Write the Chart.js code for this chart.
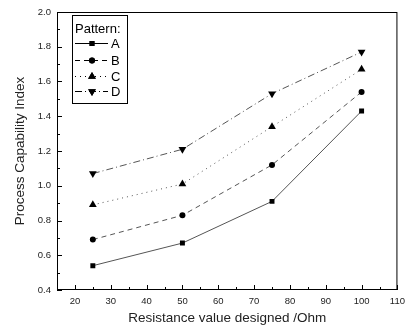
<!DOCTYPE html>
<html>
<head>
<meta charset="utf-8">
<script src="https://cdn.jsdelivr.net/npm/chart.js@4/dist/chart.umd.min.js"></script>
<style>
    body { margin: 0; background: #fff; }
    #wrap { width: 411px; height: 330px; }
</style>
</head>
<body>
<div id="wrap"><canvas id="chart" width="411" height="330"></canvas></div>
<script>
const resistance = [25, 50, 75, 100];
const patternA = [0.54, 0.67, 0.91, 1.43];
const patternB = [0.69, 0.83, 1.12, 1.54];
const patternC = [0.89, 1.01, 1.34, 1.67];
const patternD = [1.07, 1.21, 1.53, 1.77];
const seriesNames = ["A", "B", "C", "D"];

const font = "'Liberation Sans', Arial, sans-serif";

function pts(values) {
    return resistance.map((x, i) => ({ x: x, y: values[i] }));
}

const datasets = [
    { label: "A", data: pts(patternA), borderDash: [], pointStyle: "rect", pointRadius: 3.5, rotation: 0 },
    { label: "B", data: pts(patternB), borderDash: [5, 4], pointStyle: "circle", pointRadius: 3, rotation: 0 },
    { label: "C", data: pts(patternC), borderDash: [1, 4], pointStyle: "triangle", pointRadius: 4.5, rotation: 0 },
    { label: "D", data: pts(patternD), borderDash: [7, 3, 1, 3], pointStyle: "triangle", pointRadius: 4.5, rotation: 180 },
].map((d) => Object.assign(d, {
    borderColor: "#555",
    borderWidth: 1,
    backgroundColor: "#000",
    pointBackgroundColor: "#000",
    pointBorderColor: "#000",
    pointBorderWidth: 0,
    fill: false,
    tension: 0,
}));

// inward ticks and the frame
const frameTicks = {
    id: "frameTicks",
    afterDraw(chart) {
        const { ctx, chartArea: a, scales: { x, y } } = chart;
        ctx.save();
        ctx.strokeStyle = "#000";
        ctx.lineWidth = 1;
        ctx.strokeRect(a.left + 0.5, a.top + 0.5, a.right - a.left - 1, a.bottom - a.top - 1);
        ctx.beginPath();
        for (let v = 15; v <= 110; v += 5) {
            const px = Math.round(x.getPixelForValue(v)) + 0.5;
            const len = v % 10 === 0 ? 5 : 3;
            ctx.moveTo(px, a.bottom);
            ctx.lineTo(px, a.bottom - len);
        }
        for (let k = 4; k <= 20; k++) {
            const v = k / 10;
            const py = Math.round(y.getPixelForValue(v)) + 0.5;
            const len = k % 2 === 0 ? 5 : 3;
            ctx.moveTo(a.left, py);
            ctx.lineTo(a.left + len, py);
        }
        ctx.stroke();
        ctx.restore();
    },
};

// boxed legend with line samples
const boxLegend = {
    id: "boxLegend",
    afterDraw(chart) {
        const ctx = chart.ctx;
        const bx = 72.5, by = 15.5, bw = 55, bh = 88;
        ctx.save();
        ctx.fillStyle = "#fff";
        ctx.fillRect(bx, by, bw, bh);
        ctx.strokeStyle = "#000";
        ctx.lineWidth = 1;
        ctx.strokeRect(bx, by, bw, bh);
        ctx.fillStyle = "#000";
        ctx.font = "13px " + font;
        ctx.textBaseline = "middle";
        ctx.fillText("Pattern:", 75, 29);
        const rows = [43, 60, 76, 91];
        chart.data.datasets.forEach((ds, i) => {
            const yy = rows[i] + 0.5;
            ctx.strokeStyle = "#000";
            ctx.setLineDash(ds.borderDash);
            ctx.beginPath();
            ctx.moveTo(75, yy);
            ctx.lineTo(108, yy);
            ctx.stroke();
            ctx.setLineDash([]);
            Chart.helpers.drawPoint(ctx, {
                pointStyle: ds.pointStyle,
                radius: ds.pointRadius,
                rotation: ds.rotation,
                borderWidth: 0,
            }, 92, yy);
            ctx.fillStyle = "#000";
            ctx.fill();
            ctx.fillText(seriesNames[i], 111, rows[i] + 1);
        });
        ctx.restore();
    },
};

new Chart(document.getElementById("chart"), {
    type: "line",
    data: { datasets: datasets },
    options: {
        responsive: false,
        animation: false,
        layout: { padding: { top: 12, right: 5, left: 0, bottom: 0 } },
        plugins: { legend: { display: false }, tooltip: { enabled: false } },
        scales: {
            x: {
                type: "linear",
                min: 15,
                max: 110,
                afterFit(s) { s.height = 40; },
                afterBuildTicks(s) {
                    s.ticks = [20, 30, 40, 50, 60, 70, 80, 90, 100, 110].map((v) => ({ value: v }));
                },
                grid: { display: false, drawTicks: false },
                border: { display: false },
                ticks: {
                    padding: 6,
                    color: "#222",
                    font: { family: font, size: 9.5 },
                    maxRotation: 0,
                    autoSkip: false,
                },
                title: {
                    display: true,
                    text: "Resistance value designed /Ohm",
                    color: "#222",
                    font: { family: font, size: 13.5 },
                    padding: { top: 5 },
                },
            },
            y: {
                min: 0.4,
                max: 2.0,
                afterFit(s) { s.width = 57; },
                grid: { display: false, drawTicks: false },
                border: { display: false },
                ticks: {
                    stepSize: 0.2,
                    padding: 6,
                    color: "#222",
                    font: { family: font, size: 9.5 },
                    callback: (v) => v.toFixed(1),
                },
                title: {
                    display: true,
                    text: "Process Capability Index",
                    color: "#222",
                    font: { family: font, size: 13.5 },
                    padding: { top: 12, bottom: 2 },
                },
            },
        },
    },
    plugins: [frameTicks, boxLegend],
});
</script>
</body>
</html>
